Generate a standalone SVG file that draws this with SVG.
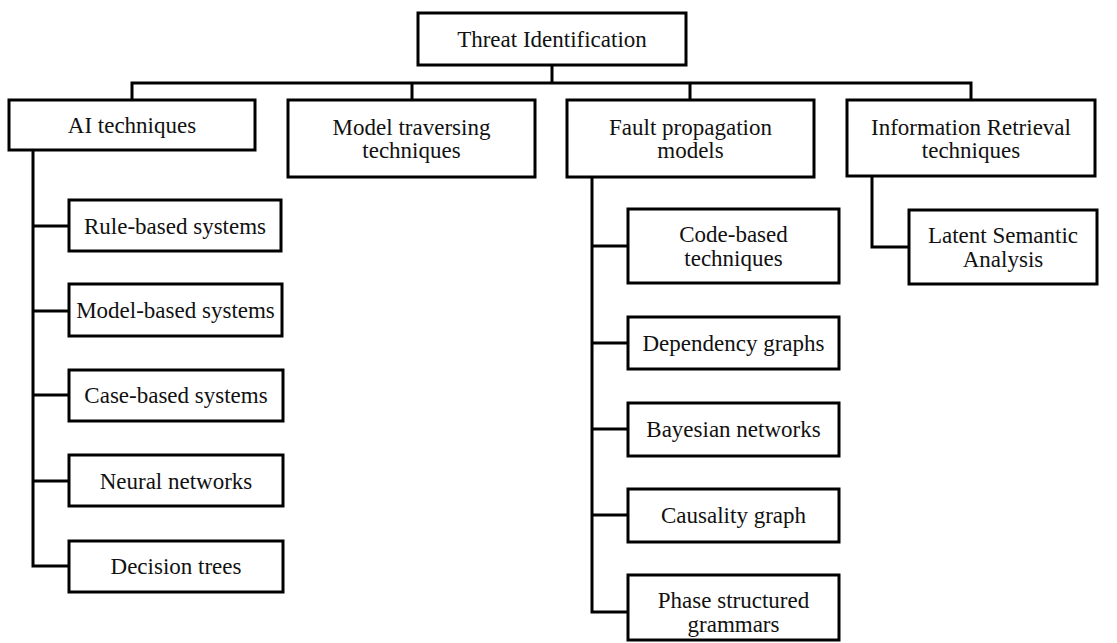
<svg xmlns="http://www.w3.org/2000/svg" width="1117" height="643" viewBox="0 0 1117 643">
<style>
.box{fill:#fff;stroke:#000;stroke-width:3}
.lbl{font-size:23px;fill:#111;text-anchor:middle}
.con{fill:none;stroke:#000;stroke-width:3;stroke-linejoin:miter}
</style>
<rect width="1117" height="643" fill="#fff"/>
<g id="connectors">
<path class="con" d="M552 65V83M132 100V83H971V100M412 83V100M690 83V100"/>
<path class="con" d="M33 150V566H69M33 226H69M33 311H69M33 395H69M33 481H69"/>
<path class="con" d="M592 177V612H628M592 246H628M592 343H628M592 429H628M592 515H628"/>
<path class="con" d="M872 176V247H909"/>
</g>
<g font-family="Liberation Serif, Times New Roman, DejaVu Serif, serif">
<g id="threat-identification"><rect class="box" x="418" y="13" width="268" height="52"/><text class="lbl" x="552" y="47">Threat Identification</text></g>
<g id="ai-techniques"><rect class="box" x="9" y="100" width="246" height="50"/><text class="lbl" x="132" y="133">AI techniques</text></g>
<g id="model-traversing"><rect class="box" x="288" y="100" width="247" height="77"/><text class="lbl" x="411.5" y="135">Model traversing</text><text class="lbl" x="411.5" y="158">techniques</text></g>
<g id="fault-propagation"><rect class="box" x="567" y="100" width="247" height="77"/><text class="lbl" x="690.5" y="135">Fault propagation</text><text class="lbl" x="690.5" y="158">models</text></g>
<g id="information-retrieval"><rect class="box" x="847" y="100" width="248" height="76"/><text class="lbl" x="971" y="135">Information Retrieval</text><text class="lbl" x="971" y="158">techniques</text></g>
<g id="rule-based"><rect class="box" x="69" y="200" width="212" height="51"/><text class="lbl" x="175" y="234">Rule-based systems</text></g>
<g id="model-based"><rect class="box" x="69" y="284" width="213" height="52"/><text class="lbl" x="175.5" y="318">Model-based systems</text></g>
<g id="case-based"><rect class="box" x="69" y="370" width="214" height="51"/><text class="lbl" x="176" y="403">Case-based systems</text></g>
<g id="neural-networks"><rect class="box" x="69" y="455" width="214" height="51"/><text class="lbl" x="176" y="489">Neural networks</text></g>
<g id="decision-trees"><rect class="box" x="69" y="541" width="214" height="51"/><text class="lbl" x="176" y="574">Decision trees</text></g>
<g id="code-based"><rect class="box" x="628" y="209" width="211" height="74"/><text class="lbl" x="733.5" y="242">Code-based</text><text class="lbl" x="733.5" y="266">techniques</text></g>
<g id="dependency-graphs"><rect class="box" x="628" y="317" width="211" height="52"/><text class="lbl" x="733.5" y="351">Dependency graphs</text></g>
<g id="bayesian-networks"><rect class="box" x="628" y="403" width="211" height="53"/><text class="lbl" x="733.5" y="437">Bayesian networks</text></g>
<g id="causality-graph"><rect class="box" x="628" y="489" width="211" height="53"/><text class="lbl" x="733.5" y="523">Causality graph</text></g>
<g id="phase-structured"><rect class="box" x="628" y="575" width="211" height="65"/><text class="lbl" x="733.5" y="608">Phase structured</text><text class="lbl" x="733.5" y="632">grammars</text></g>
<g id="latent-semantic"><rect class="box" x="909" y="210" width="188" height="74"/><text class="lbl" x="1003" y="243">Latent Semantic</text><text class="lbl" x="1003" y="267">Analysis</text></g>
</g>
</svg>
